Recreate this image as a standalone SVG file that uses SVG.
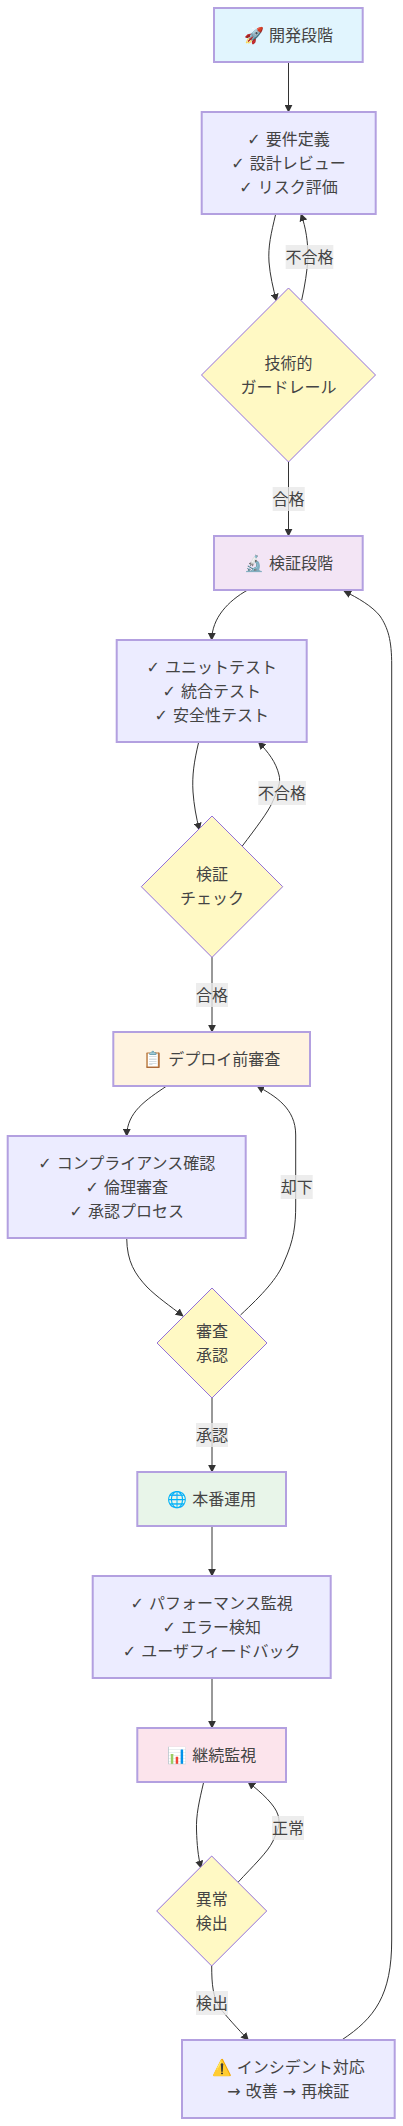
<svg xmlns="http://www.w3.org/2000/svg" width="403" height="2126" viewBox="0 0 403 2126">
<style>
text{font-family:"DejaVu Sans","Noto Sans CJK JP",sans-serif;font-size:16px;fill:#444;text-anchor:middle}
.n{stroke:#B3A0E0;stroke-width:2;fill:#ECECFF}
.d{stroke:#9370DB;stroke-width:1;fill:#FFF9C4}
.e{stroke:#333;stroke-width:1;fill:none;marker-end:url(#a)}
.l{fill:#e8e8e8;fill-opacity:.8}
</style>
<defs><marker id="a" viewBox="0 0 10 10" refX="9" refY="5" markerWidth="8" markerHeight="8" markerUnits="userSpaceOnUse" orient="auto"><path d="M0 0L10 5L0 10z" fill="#333"/></marker></defs>
<rect width="403" height="2126" fill="#fff"/>
<g id="connectors">
<path class="e" d="M288.5 62V112"/>
<path class="e" d="M275.7 214C271 234 268 246 269 262C270 275 273 288 276.5 301"/>
<path class="e" d="M301.7 300C305 285 307 272 308 258C308 242 306 228 301 214"/>
<path class="e" d="M288.5 462V536"/>
<path class="e" d="M247.7 590C228 601 212 618 211.7 640"/>
<path class="e" d="M198.7 742C194 762 192 775 193 792C194 805 196 817 199.5 830"/>
<path class="e" d="M242.3 846C256 828 268 812 272 803C278 790 281 782 279 775C276 762 268 752 258.5 742"/>
<path class="e" d="M212 957V1032"/>
<path class="e" d="M166.7 1086C146 1100 127 1112 126.7 1136"/>
<path class="e" d="M126.7 1238C127 1262 135 1274 147 1287C157 1297 170 1306 183 1316"/>
<path class="e" d="M240.5 1315C262 1295 278 1278 284 1262C294 1240 295.7 1225 295.7 1205V1135C295.7 1108 275 1096 257 1086"/>
<path class="e" d="M212 1398V1472"/>
<path class="e" d="M212 1526V1576"/>
<path class="e" d="M212 1678V1728"/>
<path class="e" d="M203.7 1782C199 1802 196 1815 196.5 1830C197 1845 198 1856 201 1868"/>
<path class="e" d="M238.3 1882C252 1867 268 1852 273 1841C277 1832 281 1824 278 1815C275 1805 262 1793 248 1782"/>
<path class="e" d="M211.7 1966C211.7 1985 213 1997 220 2008C226 2016 238 2029 248.3 2040"/>
<path class="e" d="M341.7 2040C375 2018 391.7 1995 391.7 1940V665C391.7 640 388 628 380 616C372 606 358 598 344 591"/>
</g>
<g id="edge-labels">
<g><rect class="l" x="285.7" y="245" width="47.6" height="24"/><text x="309.5" y="262.5">不合格</text></g>
<g><rect class="l" x="272.7" y="487" width="32" height="24"/><text x="288.5" y="504.5">合格</text></g>
<g><rect class="l" x="258.3" y="781" width="47.6" height="24"/><text x="282" y="798.5">不合格</text></g>
<g><rect class="l" x="196" y="983" width="32" height="24"/><text x="212" y="1000.5">合格</text></g>
<g><rect class="l" x="280.7" y="1175" width="32" height="24"/><text x="296.7" y="1192.5">却下</text></g>
<g><rect class="l" x="196" y="1423" width="32" height="24"/><text x="212" y="1440.5">承認</text></g>
<g><rect class="l" x="272" y="1816" width="32" height="24"/><text x="288" y="1833.5">正常</text></g>
<g><rect class="l" x="196" y="1991" width="32" height="24"/><text x="212" y="2008.5">検出</text></g>
</g>
<g id="n1"><rect class="n" x="214" y="8" width="148.7" height="54" style="fill:#E1F5FE"/><text x="288.5" y="40.5">🚀 開発段階</text></g>
<g id="n2"><rect class="n" x="201.7" y="112" width="174" height="102"/><text x="288.5" y="144.5">✓ 要件定義</text><text x="288.5" y="168.5">✓ 設計レビュー</text><text x="288.5" y="192.5">✓ リスク評価</text></g>
<g id="d1"><polygon class="d" points="288.5,288 375.5,375 288.5,462 201.5,375"/><text x="288.5" y="368.5">技術的</text><text x="288.5" y="392.5">ガードレール</text></g>
<g id="n3"><rect class="n" x="214" y="536" width="148.7" height="54" style="fill:#F3E5F5"/><text x="288.5" y="568.5">🔬 検証段階</text></g>
<g id="n4"><rect class="n" x="116.7" y="640" width="190" height="102"/><text x="211.7" y="672.5">✓ ユニットテスト</text><text x="211.7" y="696.5">✓ 統合テスト</text><text x="211.7" y="720.5">✓ 安全性テスト</text></g>
<g id="d2"><polygon class="d" points="212,816 282.7,886.7 212,957.4 141.3,886.7"/><text x="212" y="880">検証</text><text x="212" y="904">チェック</text></g>
<g id="n5"><rect class="n" x="113.3" y="1032" width="196.7" height="54" style="fill:#FFF3E0"/><text x="211.7" y="1064.5">📋 デプロイ前審査</text></g>
<g id="n6"><rect class="n" x="7.7" y="1136" width="238" height="102"/><text x="126.7" y="1168.5">✓ コンプライアンス確認</text><text x="126.7" y="1192.5">✓ 倫理審査</text><text x="126.7" y="1216.5">✓ 承認プロセス</text></g>
<g id="d3"><polygon class="d" points="212,1288 267,1343 212,1398 157,1343"/><text x="212" y="1336.5">審査</text><text x="212" y="1360.5">承認</text></g>
<g id="n7"><rect class="n" x="137.3" y="1472" width="148.7" height="54" style="fill:#E8F5E9"/><text x="211.7" y="1504.5">🌐 本番運用</text></g>
<g id="n8"><rect class="n" x="92.7" y="1576" width="238" height="102"/><text x="211.7" y="1608.5">✓ パフォーマンス監視</text><text x="211.7" y="1632.5">✓ エラー検知</text><text x="211.7" y="1656.5">✓ ユーザフィードバック</text></g>
<g id="n9"><rect class="n" x="137.3" y="1728" width="148.7" height="54" style="fill:#FCE4EC"/><text x="211.7" y="1760.5">📊 継続監視</text></g>
<g id="d4"><polygon class="d" points="211.7,1856 266.7,1911 211.7,1966 156.7,1911"/><text x="211.7" y="1904.5">異常</text><text x="211.7" y="1928.5">検出</text></g>
<g id="n10"><rect class="n" x="182" y="2040" width="212.7" height="78"/><text x="288.3" y="2072.5">⚠️ インシデント対応</text><text x="288.3" y="2096.5">→ 改善 → 再検証</text></g>
</svg>
